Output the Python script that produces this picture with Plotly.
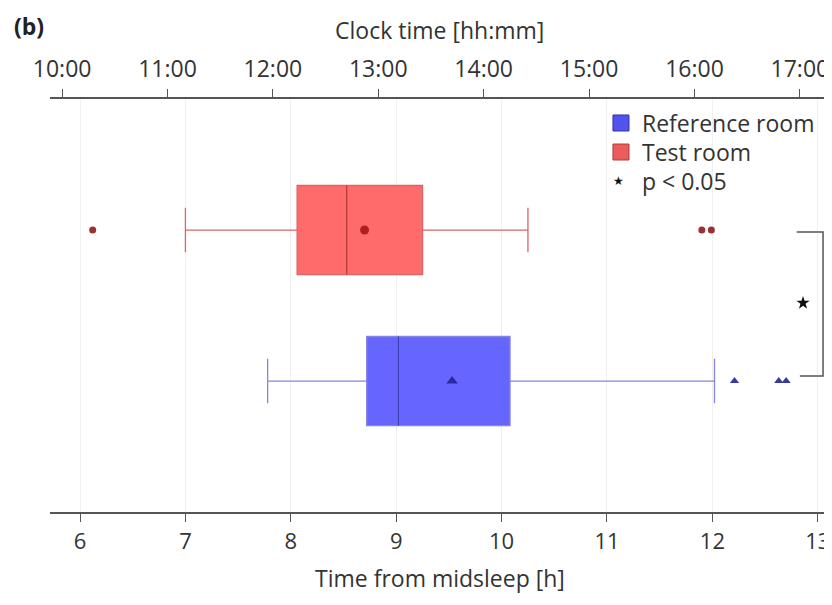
import plotly.graph_objects as go

# ---- data (hours from midsleep) ----
groups = ["Reference room", "Test room"]
group_pos = [1, 2]
box_q1 = [8.72, 8.06]
box_median = [9.02, 8.53]
box_q3 = [10.08, 9.25]
box_low = [7.78, 7.00]
box_high = [12.02, 10.25]
box_mean = [9.53, 8.70]
ref_outliers = [12.21, 12.63, 12.70]
test_outliers = [6.12, 11.90, 11.99]

x_ticks = [6, 7, 8, 9, 10, 11, 12, 13]
clock_ticks = [10, 11, 12, 13, 14, 15, 16, 17]
clock_labels = ["10:00", "11:00", "12:00", "13:00", "14:00", "15:00", "16:00", "17:00"]
clock_offset = 4.17  # clock hour = midsleep hour + offset

sig_bracket_x = [12.80, 13.05, 13.05, 12.83]
sig_bracket_y = [1.987, 1.987, 1.033, 1.033]
sig_star = [12.86, 1.517]

legend_labels = ["Reference room", "Test room", "p < 0.05"]

fill_cols = ["rgba(102,102,255,1)", "rgba(255,106,106,1)"]
line_cols = ["#8484e2", "#dc6464"]
median_cols = ["#3a3ab0", "#b83a3a"]
mark_cols = ["#2a2aa0", "#b02020"]

box_width = 0.59
xr = [5.715, 13.135]
yr = [0.1325, 2.868]

fig = go.Figure()

for i in range(2):
    fig.add_trace(go.Box(
        y=[group_pos[i]], q1=[box_q1[i]], median=[box_median[i]], q3=[box_q3[i]],
        lowerfence=[box_low[i]], upperfence=[box_high[i]],
        orientation="h", width=box_width, whiskerwidth=0.5, name=groups[i],
        fillcolor=fill_cols[i], line=dict(color=line_cols[i], width=1.3),
        boxpoints=False, showlegend=False, hoverinfo="skip",
    ))
    # darker median line
    fig.add_trace(go.Scatter(
        x=[box_median[i], box_median[i]],
        y=[group_pos[i] - box_width / 2, group_pos[i] + box_width / 2],
        mode="lines", line=dict(color=median_cols[i], width=1.2),
        showlegend=False, hoverinfo="skip"))

# mean markers
fig.add_trace(go.Scatter(x=[box_mean[0]], y=[group_pos[0]], mode="markers",
                         marker=dict(symbol="triangle-up", size=10, color=mark_cols[0]),
                         showlegend=False))
fig.add_trace(go.Scatter(x=[box_mean[1]], y=[group_pos[1]], mode="markers",
                         marker=dict(symbol="circle", size=9, color=mark_cols[1]),
                         showlegend=False))
# outliers
fig.add_trace(go.Scatter(x=ref_outliers, y=[group_pos[0]] * len(ref_outliers), mode="markers",
                         marker=dict(symbol="triangle-up", size=8, color="#3a3a9a"),
                         showlegend=False))
fig.add_trace(go.Scatter(x=test_outliers, y=[group_pos[1]] * len(test_outliers), mode="markers",
                         marker=dict(symbol="circle", size=7, color="#9a3030"),
                         showlegend=False))

# significance bracket and star
fig.add_trace(go.Scatter(x=sig_bracket_x, y=sig_bracket_y, mode="lines",
                         line=dict(color="#555555", width=1.5), showlegend=False))
fig.add_trace(go.Scatter(x=[sig_star[0]], y=[sig_star[1]], mode="markers",
                         marker=dict(symbol="star", size=10, color="#111111"),
                         showlegend=False))

# invisible trace to activate the top axis
fig.add_trace(go.Scatter(x=[xr[0] + clock_offset, xr[1] + clock_offset], y=[None, None],
                         xaxis="x2", mode="markers", showlegend=False, hoverinfo="skip"))

font_family = "Open Sans, Noto Sans, sans-serif"

# manual legend (paper coordinates)
leg_text_x = 0.7545
leg_rows_y = [0.9419, 0.8717, 0.8015]
shapes = [
    dict(type="rect", xref="paper", yref="paper", x0=0.7199, x1=0.7404,
         y0=0.9225, y1=0.9613, fillcolor="#5252ec", line=dict(color="#3434a8", width=1)),
    dict(type="rect", xref="paper", yref="paper", x0=0.7199, x1=0.7404,
         y0=0.8523, y1=0.8910, fillcolor="#ec5c5c", line=dict(color="#b03c3c", width=1)),
]
annotations = [
    dict(text=legend_labels[k], xref="paper", yref="paper", x=leg_text_x, y=leg_rows_y[k],
         xanchor="left", yanchor="middle", showarrow=False,
         font=dict(size=23, color="#333")) for k in range(3)
]
annotations.append(dict(text="★", xref="paper", yref="paper", x=0.7276, y=0.8015,
                        xanchor="center", yanchor="middle", showarrow=False,
                        font=dict(size=12, color="#111", family="DejaVu Sans")))
annotations += [
    dict(text="<b>(b)</b>", xref="paper", yref="paper", x=-0.049, y=1.176,
         xanchor="left", yanchor="middle", showarrow=False,
         font=dict(size=23, color="#222")),
    dict(text="Clock time [hh:mm]", xref="paper", yref="paper", x=0.4987, y=1.167,
         xanchor="center", yanchor="middle", showarrow=False,
         font=dict(size=23, color="#333")),
    dict(text="Time from midsleep [h]", xref="paper", yref="paper", x=0.4987, y=-0.160,
         xanchor="center", yanchor="middle", showarrow=False,
         font=dict(size=23, color="#333")),
]

fig.update_layout(
    width=824, height=597,
    margin=dict(l=42, r=0, t=91, b=93),
    paper_bgcolor="white", plot_bgcolor="white",
    font=dict(family=font_family, color="#333333"),
    showlegend=False,
    xaxis=dict(range=xr, tickvals=x_ticks, ticks="outside", ticklen=8, tickcolor="#555",
               showline=True, linecolor="#555", linewidth=1.5, mirror=False,
               showgrid=True, gridcolor="rgba(0,0,0,0.06)", dtick=0.5,
               ticklabelstandoff=1,
               tickfont=dict(size=22, color="#333"), zeroline=False),
    xaxis2=dict(range=[xr[0] + clock_offset, xr[1] + clock_offset], overlaying="x",
                side="top", anchor="y", tickvals=clock_ticks, ticktext=clock_labels,
                ticks="outside", ticklen=8, tickcolor="#555", showline=True,
                linecolor="#555", linewidth=1.5, showgrid=False, zeroline=False,
                ticklabelstandoff=3,
                tickfont=dict(size=23, color="#333")),
    yaxis=dict(range=yr, visible=False, showgrid=False, zeroline=False),
    shapes=shapes,
    annotations=annotations,
)

fig.write_html("out.html")
